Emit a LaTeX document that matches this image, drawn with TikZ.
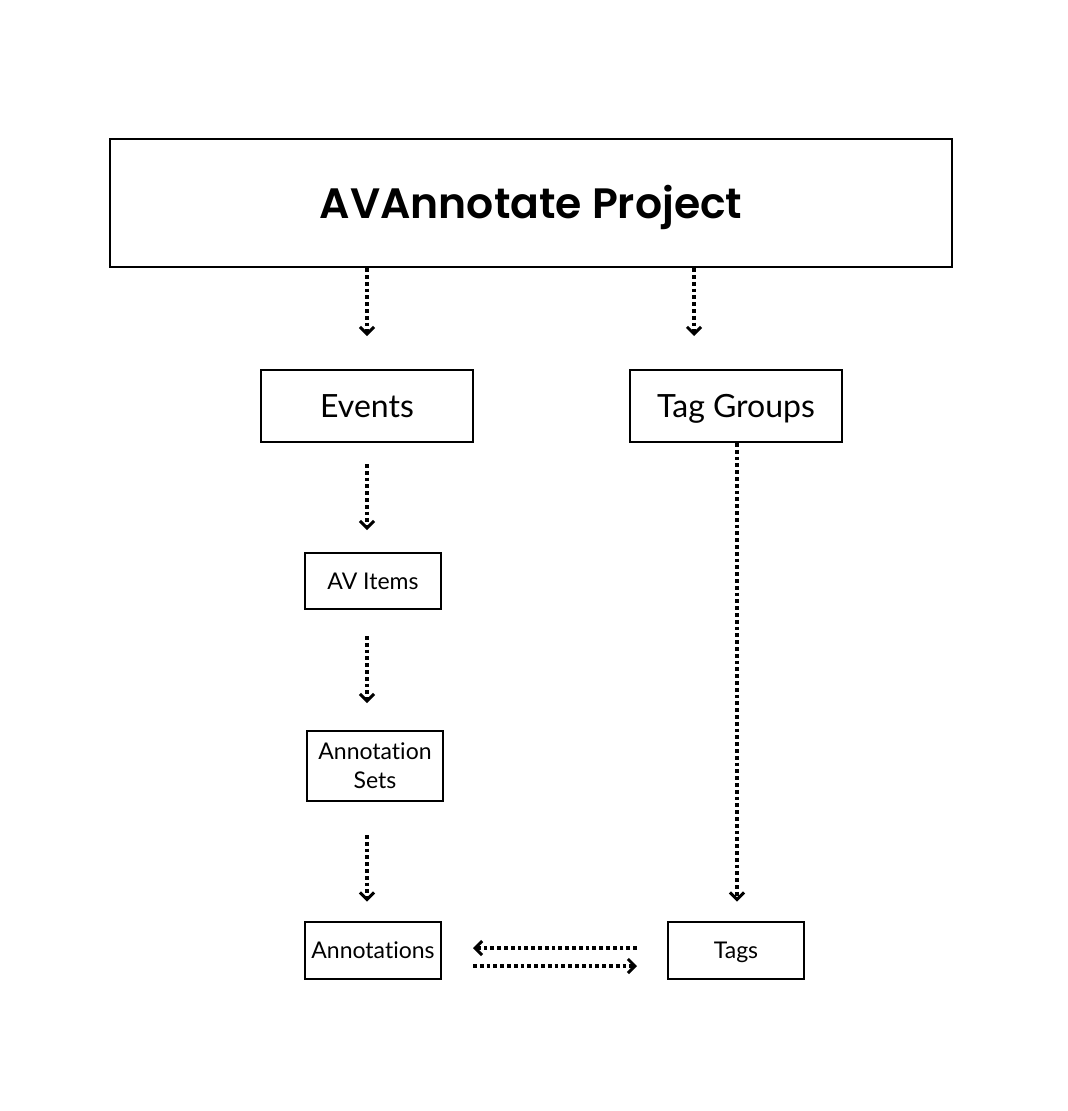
\documentclass[tikz,border=0pt]{standalone}
\usepackage{fontspec}
\setmainfont{Lato}[Ligatures={NoCommon}]
\newfontfamily\titlefont[BoldFont={Poppins SemiBold}]{Poppins}
\usetikzlibrary{arrows.meta,calc}
\begin{document}
\begin{tikzpicture}[x=1pt,y=-1pt,
  box/.style={draw=black,line width=2pt,minimum width=#1,inner sep=0pt,align=center,text=black},
  one/.style={text height=#1,text depth=0pt},
  conn/.style={line width=3.8pt,dash pattern=on 3.8pt off 3pt,-{Straight Barb[length=7pt,width=14pt,line width=3pt]}}
]
\useasboundingbox[fill=white] (0,0) rectangle (1068,1111);
\node[box=842pt,one=30pt,minimum height=128pt,line width=2.5pt,font=\titlefont\bfseries\fontsize{42.5}{48}\selectfont] (proj) at (531,203) {AVAnnotate Project};
\node[box=212pt,one=23pt,minimum height=72pt,font=\fontsize{32}{36}\selectfont] (ev) at (367,406) {Events};
\node[box=212pt,one=23pt,minimum height=72pt,font=\fontsize{32}{36}\selectfont] (tg) at (736,406) {Tag Groups};
\node[box=136pt,one=16.5pt,minimum height=56pt,font=\fontsize{23}{26}\selectfont] (av) at (373,581) {AV Items};
\node[box=136pt,minimum height=70pt,font=\fontsize{23}{29}\selectfont] (as) at (375,766) {Annotation\\Sets};
\node[box=136pt,one=16.5pt,minimum height=57pt,font=\fontsize{23}{26}\selectfont] (an) at (373,950) {Annotations};
\node[box=136pt,one=16.5pt,minimum height=57pt,font=\fontsize{23}{26}\selectfont] (tags) at (736,950) {Tags};
\draw[conn,shorten >=33pt] (proj.south -| ev.north) -- (ev.north);
\draw[conn,shorten >=33pt] ([xshift=-42pt]proj.south -| tg.north) -- ([xshift=-42pt]tg.north);
\draw[conn,shorten <=21pt,shorten >=22pt] (ev.south) -- (ev.south |- av.north);
\draw[conn,shorten <=26pt,shorten >=27pt] (ev.south |- av.south) -- (ev.south |- as.north);
\draw[conn,shorten <=33pt,shorten >=19pt] (ev.south |- as.south) -- (ev.south |- an.north);
\draw[conn,shorten >=19pt] ([xshift=1pt]tg.south) -- ([xshift=1pt]tags.north);
\draw[conn,shorten <=30pt,shorten >=31pt] ([yshift=2pt]tags.west) -- ([yshift=2pt]an.east);
\draw[conn,shorten <=31pt,shorten >=30pt] ([yshift=-16pt]an.east) -- ([yshift=-16pt]tags.west);
\end{tikzpicture}
\end{document}
